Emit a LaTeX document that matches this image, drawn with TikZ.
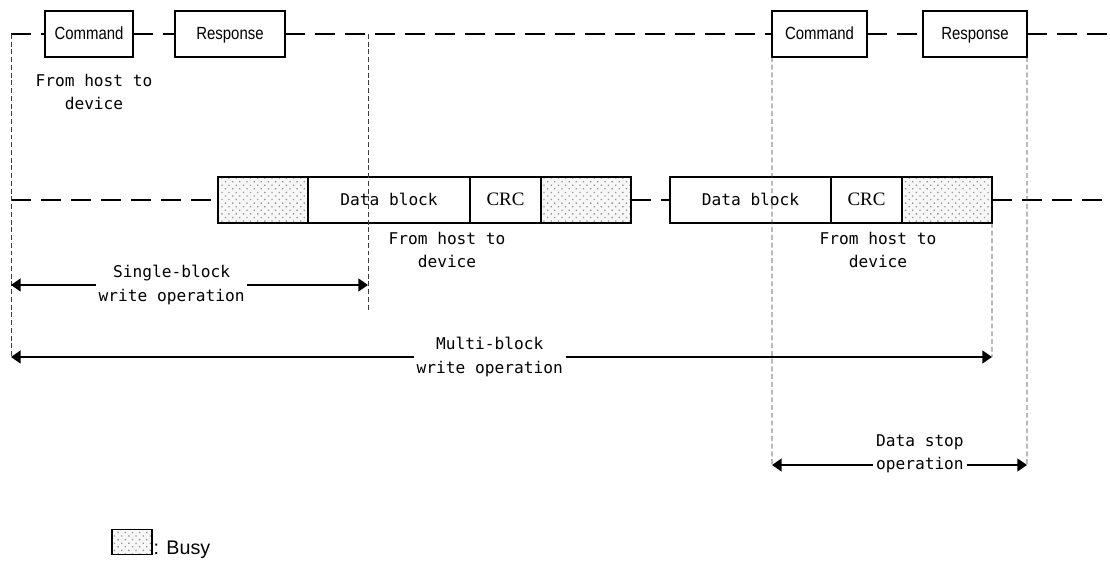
\documentclass[tikz,border=0pt]{standalone}
\usepackage{fontspec}
\usepackage{tikz}
\usetikzlibrary{arrows.meta, positioning, patterns.meta}
\newfontfamily\labelfont{DejaVu Sans Mono}
\newfontfamily\boxfont[FakeStretch=0.85]{Liberation Sans}
\newfontfamily\legendfont{Liberation Sans}
\newfontfamily\crcfont{Liberation Serif}
\definecolor{dotgray}{RGB}{150,150,150}
\definecolor{guidegray}{RGB}{60,60,60}

\begin{document}
\begin{tikzpicture}[
  x=0.025cm, y=-0.025cm,
  box/.style={rectangle, draw=black, line width=0.9pt, minimum height=1.15cm,
              inner sep=0pt, outer sep=0pt, text height=0.8em, text depth=0.08em,
              font=\boxfont\fontsize{12.5}{14}\selectfont},
  databox/.style={box, font=\labelfont\fontsize{11.5}{14}\selectfont},
  crcbox/.style={box, minimum width=1.775cm, font=\crcfont\fontsize{13.5}{16}\selectfont},
  busy/.style={box, minimum width=2.25cm, preaction={fill=gray!6},
               pattern={Dots[distance=3.6pt, angle=45, radius=0.65pt]}, pattern color=dotgray},
  lbl/.style={font=\labelfont\fontsize{11.5}{16.5}\selectfont, align=center, inner sep=2pt},
  tl/.style={line width=1.4pt, dash pattern=on 0.5cm off 0.25cm},
  guide/.style={guidegray, line width=0.6pt, dash pattern=on 3.5pt off 2pt},
  arr/.style={{Triangle[length=2.4mm, width=3.2mm]}-{Triangle[length=2.4mm, width=3.2mm]},
              line width=1.3pt}
]
\useasboundingbox (0,0) rectangle (1110,579);

\node[box, minimum width=2.2cm] (cmdA) at (89,34) {Command};
\node[box, minimum width=2.75cm] (rspA) at (230,34) {Response};
\node[box, minimum width=2.375cm] (cmdB) at (819.5,34) {Command};
\node[box, minimum width=2.6cm] (rspB) at (975,34) {Response};
\coordinate (topL) at (11,34);
\coordinate (topR) at (1110,34);
\draw[tl] (topL) -- (cmdA.west);
\draw[tl] (cmdA.east) -- (rspA.west);
\draw[tl] (rspA.east) -- (cmdB.west);
\draw[tl] (cmdB.east) -- (rspB.west);
\draw[tl] (rspB.east) -- (topR);

\node[busy] (busyA) at (263,200) {};
\node[databox, minimum width=4.05cm, right=0pt of busyA] (dataA) {Data block};
\node[crcbox, right=0pt of dataA] (crcA) {CRC};
\node[busy, right=0pt of crcA] (busyB) {};
\node[databox, minimum width=4.025cm] (dataB) at (750.5,200) {Data block};
\node[crcbox, right=0pt of dataB] (crcB) {CRC};
\node[busy, right=0pt of crcB] (busyC) {};
\coordinate (midL) at (11,200);
\coordinate (midR) at (1110,200);
\draw[tl] (midL) -- (busyA.west);
\draw[tl] (busyB.east) -- (dataB.west);
\draw[tl] (busyC.east) -- (midR);

\node[lbl] (hostA) at (94,92) {From host to\\device};
\node[lbl] (hostB) at (447,250) {From host to\\device};
\node[lbl] (hostC) at (878,250) {From host to\\device};

\coordinate (singleT) at (368,34);
\coordinate (singleB) at (368,312);
\coordinate (singleL) at (11,285);
\coordinate (singleR) at (368,285);
\coordinate (multiL) at (11,357);
\coordinate (multiR) at (992,357);
\coordinate (stopL) at (772,465);
\coordinate (stopR) at (1027,465);
\draw[guide] (topL) -- (multiL);
\draw[guide] (singleT) -- (singleB);
\draw[guide] (cmdB.south west) -- (stopL);
\draw[guide] (rspB.south east) -- (stopR);
\draw[guide] (busyC.south east) -- (multiR);

\draw[arr] (singleL) -- node[lbl, fill=white, pos=0.45] {Single-block\\write operation} (singleR);
\draw[arr] (multiL) -- node[lbl, fill=white, pos=0.488] {Multi-block\\write operation} (multiR);
\draw[arr] (stopL) -- node[lbl, fill=white, pos=0.58, yshift=0.29cm] {Data stop\\operation} (stopR);

\node[busy, minimum width=1cm, minimum height=0.625cm] (legBusy) at (132,542) {};
\node[anchor=base west, inner sep=1pt, font=\legendfont\fontsize{14}{16}\selectfont]
  (legText) at (legBusy.south east) {: Busy};
\end{tikzpicture}
\end{document}
